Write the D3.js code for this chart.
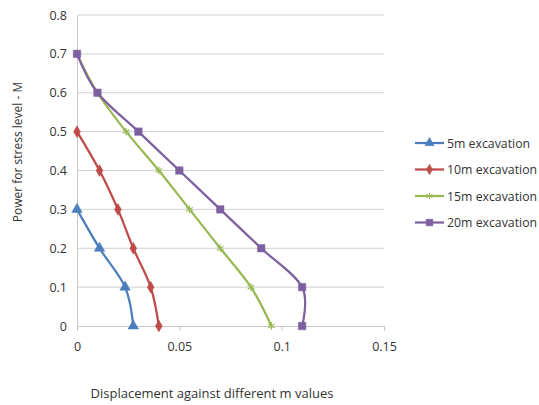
<!DOCTYPE html>
<html>
<head>
<meta charset="utf-8">
<script src="https://cdn.jsdelivr.net/npm/d3@7"></script>
<style>
  body { margin: 0; background: #fff; }
  text { font-family: "Open Sans", sans-serif; fill: #333; }
</style>
</head>
<body>
<div id="chart"></div>
<script>
// stress level values (y) and displacement per series (x)
const levels_5m = [0, 0.1, 0.2, 0.3];
const disp_5m = [0.0275, 0.0235, 0.011, 0];
const levels_10m = [0, 0.1, 0.2, 0.3, 0.4, 0.5];
const disp_10m = [0.04, 0.036, 0.0275, 0.02, 0.011, 0];
const levels_15m = [0, 0.1, 0.2, 0.3, 0.4, 0.5, 0.6, 0.7];
const disp_15m = [0.095, 0.085, 0.07, 0.055, 0.04, 0.024, 0.01, 0];
const levels_20m = [0, 0.1, 0.2, 0.3, 0.4, 0.5, 0.6, 0.7];
const disp_20m = [0.11, 0.11, 0.09, 0.07, 0.05, 0.03, 0.01, 0];

const series_names = ["5m excavation", "10m excavation", "15m excavation", "20m excavation"];
const x_ticks = [0, 0.05, 0.1, 0.15];
const y_ticks = [0, 0.1, 0.2, 0.3, 0.4, 0.5, 0.6, 0.7, 0.8];

const colors = ["#4a7ebb", "#be4b48", "#98b954", "#7d60a0"];
const symbols = [d3.symbolTriangle, d3.symbolDiamond, d3.symbolAsterisk, d3.symbolSquare];
const symbol_sizes = [48, 40, 40, 56];

const width = 539, height = 405;
const margin = { top: 15, right: 155, bottom: 79, left: 77 };
const plot_w = width - margin.left - margin.right;
const plot_h = height - margin.top - margin.bottom;

const svg = d3.select("#chart").append("svg")
    .attr("width", width)
    .attr("height", height);

const g = svg.append("g")
    .attr("transform", `translate(${margin.left},${margin.top})`);

const x = d3.scaleLinear().domain([0, 0.15]).range([0, plot_w]);
const y = d3.scaleLinear().domain([0, 0.8]).range([plot_h, 0]);

// gridlines
g.append("g").selectAll("line")
    .data(y_ticks.filter(d => d > 0))
    .join("line")
    .attr("x1", 0).attr("x2", plot_w)
    .attr("y1", d => y(d)).attr("y2", d => y(d))
    .attr("stroke", "#d0d0d0").attr("stroke-width", 1);

// axes
const x_axis = g.append("g")
    .attr("transform", `translate(0,${plot_h})`)
    .call(d3.axisBottom(x).tickValues(x_ticks).tickSize(5).tickPadding(11).tickFormat(d => d));
const y_axis = g.append("g")
    .call(d3.axisLeft(y).tickValues(y_ticks).tickSize(0).tickPadding(10).tickFormat(d => d));

[x_axis, y_axis].forEach(a => {
    a.select(".domain").attr("stroke", "#c8c8c8");
    a.selectAll(".tick line").attr("stroke", "#c8c8c8");
    a.selectAll(".tick text").style("font-size", "12.5px").attr("fill", "#3a3a3a");
});

// series
const all_series = [
    { levels: levels_5m, disp: disp_5m },
    { levels: levels_10m, disp: disp_10m },
    { levels: levels_15m, disp: disp_15m },
    { levels: levels_20m, disp: disp_20m }
].map((s, i) => ({
    name: series_names[i],
    points: s.levels.map((lv, j) => ({ level: lv, disp: s.disp[j] }))
}));

const line = d3.line()
    .curve(d3.curveCatmullRom.alpha(0))
    .x(d => x(d.disp))
    .y(d => y(d.level));

all_series.forEach((s, i) => {
    g.append("path")
        .datum(s.points)
        .attr("d", line)
        .attr("fill", "none")
        .attr("stroke", colors[i])
        .attr("stroke-width", 2.25);

    g.append("g").selectAll("path")
        .data(s.points)
        .join("path")
        .attr("transform", d => `translate(${x(d.disp)},${y(d.level)})`)
        .attr("d", d3.symbol().type(symbols[i]).size(symbol_sizes[i]))
        .attr("fill", i == 2 ? "none" : colors[i])
        .attr("stroke", colors[i])
        .attr("stroke-width", i == 2 ? 1.2 : 0.5);
});

// legend
const legend = svg.append("g").attr("transform", "translate(415,143)");
series_names.forEach((name, i) => {
    const row = legend.append("g").attr("transform", `translate(0,${i * 26.5})`);
    row.append("line")
        .attr("x1", 0).attr("x2", 29)
        .attr("stroke", colors[i]).attr("stroke-width", 2.25);
    row.append("path")
        .attr("transform", "translate(14.5,0)")
        .attr("d", d3.symbol().type(symbols[i]).size(symbol_sizes[i] * 0.8))
        .attr("fill", i == 2 ? "none" : colors[i])
        .attr("stroke", colors[i])
        .attr("stroke-width", i == 2 ? 1 : 0.5);
    row.append("text")
        .attr("x", 32).attr("y", 4.5)
        .style("font-size", "12.3px")
        .text(name);
});

// axis titles
svg.append("text")
    .attr("x", 212).attr("y", 398)
    .attr("text-anchor", "middle")
    .style("font-size", "13px")
    .text("Displacement against different m values");

svg.append("text")
    .attr("transform", "translate(22,152) rotate(-90)")
    .attr("text-anchor", "middle")
    .style("font-size", "12px")
    .text("Power for stress level - M");
</script>
</body>
</html>
